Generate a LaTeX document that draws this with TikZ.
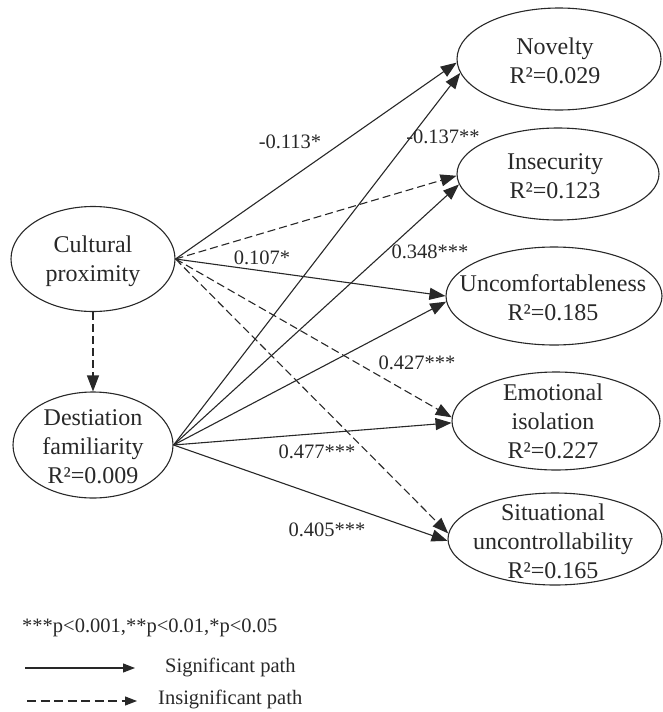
\documentclass[tikz,border=0pt]{standalone}
\usepackage{fontspec}
\setmainfont{Liberation Serif}
\usetikzlibrary{arrows.meta,shapes.geometric}
\definecolor{ink}{RGB}{40,40,40}
\begin{document}
\begin{tikzpicture}[x=1pt,y=-1pt,
  ell/.style={draw=ink,ellipse,line width=1.1pt,inner sep=0pt},
  txt/.style={align=center,text=ink,font=\fontsize{24}{29}\selectfont,inner sep=0pt},
  lab/.style={text=ink,font=\fontsize{20.5}{24}\selectfont,inner sep=0pt},
  sig/.style={draw=ink,line width=1.1pt,-{Triangle[length=16pt,width=12pt]}},
  insig/.style={sig,dash pattern=on 8pt off 4pt},
  lsig/.style={draw=ink,line width=1.1pt,-{Triangle[length=12pt,width=9pt]}},
  linsig/.style={lsig,dash pattern=on 9pt off 4.5pt}]
\useasboundingbox (0,0) rectangle (663,712);
% outcome ellipses
\node[ell,minimum width=204pt,minimum height=102pt] (nov) at (559,59) {};
\node[txt] (novt) at (555,61) {Novelty\\R²=0.029};
\node[ell,minimum width=202pt,minimum height=92pt] (ins) at (558,174) {};
\node[txt] (inst) at (555,176) {Insecurity\\R²=0.123};
\node[ell,minimum width=216pt,minimum height=98pt] (unc) at (554,296) {};
\node[txt] (unct) at (553,298) {Uncomfortableness\\R²=0.185};
\node[ell,minimum width=208pt,minimum height=98pt] (emo) at (556,421) {};
\node[txt] (emot) at (553,421) {Emotional\\isolation\\R²=0.227};
\node[ell,minimum width=214pt,minimum height=92pt] (sit) at (555,539) {};
\node[txt] (sitt) at (553,541) {Situational\\uncontrollability\\R²=0.165};
% predictors
\node[ell,minimum width=164pt,minimum height=105pt] (cp) at (93,259) {};
\node[txt] (cpt) at (93,261) {Cultural\\proximity};
\node[ell,minimum width=160pt,minimum height=106pt] (df) at (93,445) {};
\node[txt] (dft) at (93,447) {Destiation\\familiarity\\R²=0.009};
% paths
\draw[insig] (cp.south) -- (df.north);
\draw[sig] (cp.east) -- (nov.182);
\draw[insig] (cp.east) -- (ins.181);
\draw[sig] (cp.east) -- (unc.180);
\draw[insig] (cp.east) -- (emo.178);
\draw[insig] (cp.east) -- (sit.177);
\draw[sig] (df.east) -- (nov.188);
\draw[sig] (df.east) -- (ins.186);
\draw[sig] (df.east) -- (unc.183);
\draw[sig] (df.east) -- (emo.181);
\draw[sig] (df.east) -- (sit.181);
% path labels
\node[lab] (l1) at (290,142) {-0.113*};
\node[lab] (l2) at (443,137) {-0.137**};
\node[lab] (l3) at (262,258) {0.107*};
\node[lab] (l4) at (430,252) {0.348***};
\node[lab] (l5) at (417,363) {0.427***};
\node[lab] (l6) at (317,452) {0.477***};
\node[lab] (l7) at (327,530) {0.405***};
% legend
\node[lab,anchor=west] (note) at (22,628) {***p<0.001,**p<0.01,*p<0.05};
\coordinate (sa) at (25,668);
\coordinate (sb) at (135,668);
\draw[lsig] (sa) -- (sb);
\node[lab,anchor=west] (st) at (165,667) {Significant path};
\coordinate (ia) at (27,701);
\coordinate (ib) at (137,701);
\draw[linsig] (ia) -- (ib);
\node[lab,anchor=west] (it) at (158,699) {Insignificant path};
\end{tikzpicture}
\end{document}
